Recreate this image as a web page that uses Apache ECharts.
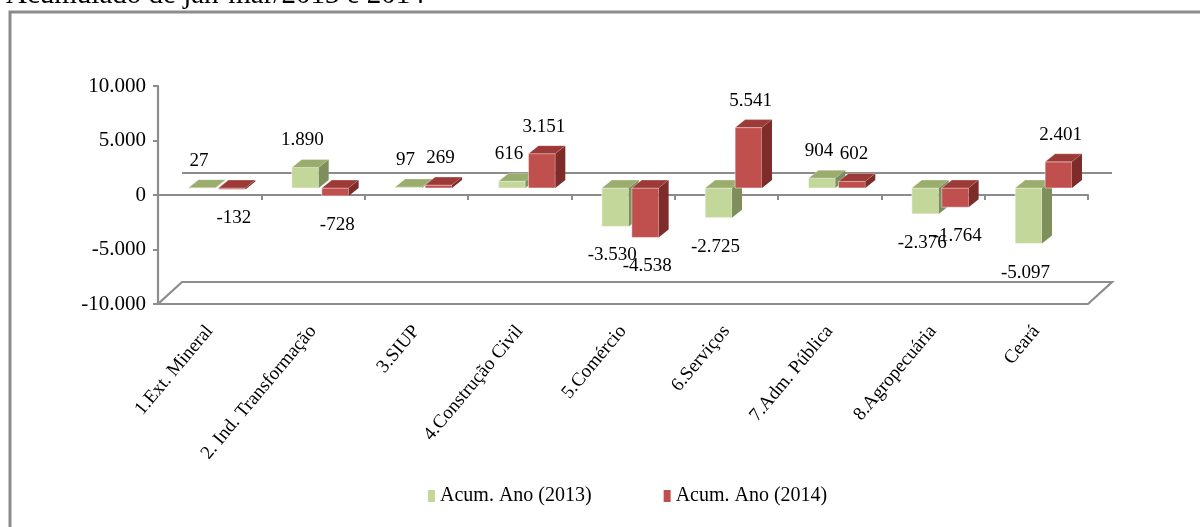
<!DOCTYPE html>
<html>
<head>
<meta charset="utf-8">
<script src="https://cdn.jsdelivr.net/npm/echarts@6/dist/echarts.min.js"></script>
<style>
html,body{margin:0;padding:0;background:#fff;}
#chart{width:1200px;height:527px;}
</style>
</head>
<body>
<div id="chart"></div>
<script>
const titleText = 'Acumulado de jan-mar/2013 e 2014';
const categories = ['1.Ext. Mineral', '2. Ind. Transformação', '3.SIUP', '4.Construção Civil', '5.Comércio', '6.Serviços', '7.Adm. Pública', '8.Agropecuária', 'Ceará'];
const acum2013 = [27, 1890, 97, 616, -3530, -2725, 904, -2376, -5097];
const acum2014 = [-132, -728, 269, 3151, -4538, 5541, 602, -1764, 2401];
const seriesNames = ['Acum. Ano (2013)', 'Acum. Ano (2014)'];
const yMin = -10000, yMax = 10000, yStep = 5000;

const FONT = 'Liberation Serif';
const GRAY = '#8c8c8c';
const palettes = [
  {front: '#c4d79b', top: '#9aad6c', side: '#7f8f5c', labelDx: -3},
  {front: '#c0504d', top: '#9d3a37', side: '#7e2c2a', labelDx: 2}
];

function fmt(v) {
  const s = String(Math.abs(Math.round(v))).replace(/\B(?=(\d{3})+(?!\d))/g, '.');
  return (v < 0 ? '-' : '') + s;
}

function boxRenderer(si) {
  return function (params, api) {
    const ci = api.value(0), v = api.value(1);
    const base = api.coord([ci, 0]);
    const end = api.coord([ci, v]);
    const band = api.size([1, 0])[0];
    const w = band * 0.26, gap = band * 0.03;
    const cx = base[0] + band * 0.07;
    const x0 = si === 0 ? cx - gap / 2 - w : cx + gap / 2;
    const x1 = x0 + w;
    const shift = -7;
    const yb = base[1] + shift, ye = end[1] + shift;
    const yT = Math.min(yb, ye), yB = Math.max(yb, ye);
    const dx = 10, dy = -8;
    const p = palettes[si];
    const children = [
      {type: 'rect', shape: {x: x0, y: yT, width: w, height: Math.max(yB - yT, 0.5)},
       style: {fill: p.front, stroke: 'rgba(255,255,255,0.6)', lineWidth: 0.8}},
      {type: 'polygon', shape: {points: [[x0, yT], [x1, yT], [x1 + dx, yT + dy], [x0 + dx, yT + dy]]},
       style: {fill: p.top, stroke: 'rgba(255,255,255,0.5)', lineWidth: 0.6}},
      {type: 'polygon', shape: {points: [[x1, yT], [x1 + dx, yT + dy], [x1 + dx, yB + dy], [x1, yB]]},
       style: {fill: p.side}},
      {type: 'text', z2: 100,
       style: {text: fmt(v), x: (x0 + x1) / 2 + p.labelDx, y: v >= 0 ? ye - 27 : ye + 29,
               align: 'center', verticalAlign: 'middle', fill: '#000',
               font: '19px "' + FONT + '"'}}
    ];
    return {type: 'group', children: children};
  };
}

function decorRenderer(params, api) {
  const n = categories.length;
  const band = api.size([1, 0])[0];
  const left = api.coord([0, yMin])[0] - band / 2;
  const right = api.coord([n - 1, yMin])[0] + band / 2;
  const yf = api.coord([0, yMin])[1];
  const y0 = api.coord([0, 0])[1];
  const dx = 24, dy = -22;
  const ls = {stroke: GRAY, lineWidth: 2.2, fill: null};
  return {type: 'group', children: [
    {type: 'polygon', shape: {points: [[left, yf], [right, yf], [right + dx, yf + dy], [left + dx, yf + dy]]}, style: ls},
    {type: 'polyline', shape: {points: [[left + dx, y0 + dy], [right + dx, y0 + dy]]}, style: ls}
  ]};
}

const chart = echarts.init(document.getElementById('chart'), null, {renderer: 'canvas'});
chart.setOption({
  backgroundColor: '#fff',
  animation: false,
  textStyle: {fontFamily: FONT},
  graphic: [
    {type: 'text', left: 6, top: -19, z: 0,
     style: {text: titleText, fill: '#000', font: '29px "' + FONT + '"'}},
    {type: 'rect', shape: {x: 10, y: 12, width: 1200, height: 530}, z: 10,
     style: {fill: null, stroke: GRAY, lineWidth: 3}}
  ],
  grid: {left: 158, right: 112, top: 86, bottom: 223, containLabel: false, outerBoundsMode: 'none'},
  legend: {
    data: seriesNames, left: 423, top: 481, itemWidth: 7, itemHeight: 12, itemGap: 72, icon: 'rect',
    textStyle: {fontFamily: FONT, fontSize: 20, color: '#000'}
  },
  xAxis: {
    type: 'category', data: categories, boundaryGap: true,
    axisLine: {show: true, onZero: true, lineStyle: {color: GRAY, width: 2.2}},
    axisTick: {show: true, length: 5, lineStyle: {color: GRAY, width: 2}},
    axisLabel: {rotate: 50, margin: 24, interval: 0, fontFamily: FONT, fontSize: 19, color: '#000'},
    splitLine: {show: false}
  },
  yAxis: {
    type: 'value', min: yMin, max: yMax, interval: yStep,
    axisLine: {show: true, lineStyle: {color: GRAY, width: 2.2}},
    axisTick: {show: true, length: 5, lineStyle: {color: GRAY, width: 2}},
    axisLabel: {formatter: fmt, margin: 12, fontFamily: FONT, fontSize: 21, color: '#000'},
    splitLine: {show: false}
  },
  series: [
    {type: 'custom', name: 'decor', z: 1, silent: true, renderItem: decorRenderer, data: [[0, yMin]]},
    {type: 'custom', name: seriesNames[0], z: 2, itemStyle: {color: palettes[0].front},
     renderItem: boxRenderer(0), data: acum2013.map((v, i) => [i, v])},
    {type: 'custom', name: seriesNames[1], z: 2, itemStyle: {color: palettes[1].front},
     renderItem: boxRenderer(1), data: acum2014.map((v, i) => [i, v])}
  ]
});
</script>
</body>
</html>
